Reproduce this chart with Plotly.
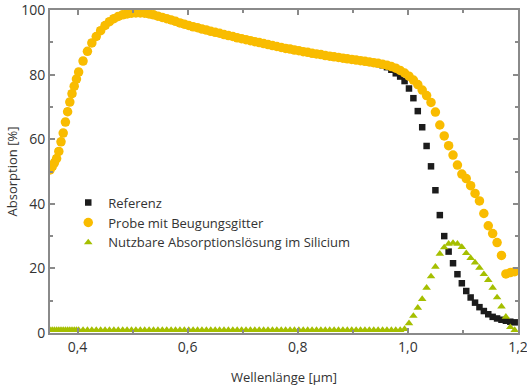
import plotly.graph_objects as go

# Wavelength grid [µm]
wavelength = [
    0.350, 0.354, 0.358, 0.362, 0.366, 0.370, 0.374, 0.378, 0.382, 0.386, 0.390, 0.394, 0.398, 0.402,
    0.410, 0.418, 0.426, 0.434, 0.442, 0.450, 0.458, 0.466, 0.474, 0.482,
    0.490, 0.498, 0.506, 0.514, 0.522, 0.530, 0.538, 0.546, 0.554, 0.562,
    0.570, 0.578, 0.586, 0.594, 0.602, 0.610, 0.618, 0.626, 0.634, 0.642,
    0.650, 0.658, 0.666, 0.674, 0.682, 0.690, 0.698, 0.706, 0.714, 0.722,
    0.730, 0.738, 0.746, 0.754, 0.762, 0.770, 0.778, 0.786, 0.794, 0.802,
    0.810, 0.818, 0.826, 0.834, 0.842, 0.850, 0.858, 0.866, 0.874, 0.882,
    0.890, 0.898, 0.906, 0.914, 0.922, 0.930, 0.938, 0.946, 0.954, 0.962,
    0.970, 0.978, 0.986, 0.994, 1.002, 1.010, 1.018, 1.026, 1.034, 1.042,
    1.050, 1.058, 1.066, 1.074, 1.082, 1.090, 1.098, 1.106, 1.114, 1.122,
    1.130, 1.138, 1.146, 1.154, 1.162, 1.170, 1.178, 1.186, 1.194,
]

# Referenz (black squares)
referenz = [
    50.5, 51.5, 52.7, 54.0, 56.2, 59.2, 61.9, 65.3, 68.5, 71.5, 74.1, 76.4, 78.6, 80.8,
    84.2, 87.2, 89.8, 91.8, 93.6, 95.2, 96.4, 97.3, 98.0, 98.5,
    98.8, 99.0, 99.1, 99.1, 99.0, 98.8, 98.5, 98.1, 97.7, 97.3,
    96.9, 96.5, 96.0, 95.6, 95.2, 94.8, 94.5, 94.1, 93.8, 93.4,
    93.1, 92.8, 92.4, 92.1, 91.8, 91.4, 91.1, 90.8, 90.5, 90.2,
    89.9, 89.6, 89.3, 89.0, 88.7, 88.4, 88.1, 87.9, 87.6, 87.4,
    87.1, 86.9, 86.6, 86.4, 86.2, 85.9, 85.7, 85.5, 85.3, 85.1,
    84.9, 84.7, 84.5, 84.3, 84.1, 83.9, 83.6, 83.3, 82.9, 82.3,
    81.5, 80.4, 79.4, 78.0, 75.7, 72.7, 68.7, 63.7, 57.9, 51.6,
    44.2, 36.5, 30.0, 25.2, 21.6, 18.2, 15.4, 13.0, 11.0, 9.4,
    8.0, 6.8, 5.8, 5.0, 4.5, 4.1, 3.8, 3.5, 3.3,
]

# Probe mit Beugungsgitter (orange circles)
probe = [
    50.5, 51.5, 52.7, 54.0, 56.2, 59.2, 61.9, 65.3, 68.5, 71.5, 74.1, 76.4, 78.6, 80.8,
    84.2, 87.2, 89.8, 91.8, 93.6, 95.2, 96.4, 97.3, 98.0, 98.5,
    98.8, 99.0, 99.1, 99.1, 99.0, 98.8, 98.5, 98.1, 97.7, 97.3,
    96.9, 96.5, 96.0, 95.6, 95.2, 94.8, 94.5, 94.1, 93.8, 93.4,
    93.1, 92.8, 92.4, 92.1, 91.8, 91.4, 91.1, 90.8, 90.5, 90.2,
    89.9, 89.6, 89.3, 89.0, 88.7, 88.4, 88.1, 87.9, 87.6, 87.4,
    87.1, 86.9, 86.6, 86.4, 86.2, 85.9, 85.7, 85.5, 85.3, 85.1,
    84.9, 84.7, 84.5, 84.3, 84.1, 83.9, 83.7, 83.5, 83.2, 82.9,
    82.5, 82.0, 81.3, 80.5, 79.5, 78.3, 76.9, 75.2, 73.5, 71.4,
    68.4, 64.4, 61.0, 58.0, 55.1, 52.0, 49.2, 47.8, 45.6, 43.2,
    40.9, 37.0, 33.2, 30.8, 28.0, 24.0, 18.3, 18.7, 19.0,
]

# Nutzbare Absorptionslösung im Silicium (green triangles)
nutzbar = [
    0.9, 0.9, 0.9, 0.9, 0.9, 0.9, 0.9, 0.9, 0.9, 0.9, 0.9, 0.9, 0.9, 0.9,
    0.9, 0.9, 0.9, 0.9, 0.9, 0.9, 0.9, 0.9, 0.9, 0.9,
    0.9, 0.9, 0.9, 0.9, 0.9, 0.9, 0.9, 0.9, 0.9, 0.9,
    0.9, 0.9, 0.9, 0.9, 0.9, 0.9, 0.9, 0.9, 0.9, 0.9,
    0.9, 0.9, 0.9, 0.9, 0.9, 0.9, 0.9, 0.9, 0.9, 0.9,
    0.9, 0.9, 0.9, 0.9, 0.9, 0.9, 0.9, 0.9, 0.9, 0.9,
    0.9, 0.9, 0.9, 0.9, 0.9, 0.9, 0.9, 0.9, 0.9, 0.9,
    0.9, 0.9, 0.9, 0.9, 0.9, 0.9, 0.9, 0.9, 0.9, 0.9,
    0.9, 0.9, 0.9, 1.2, 3.0, 5.3, 7.8, 10.5, 14.0, 17.5,
    20.5, 24.5, 26.5, 27.6, 27.9, 27.6, 26.6, 24.7, 23.2, 21.8,
    20.2, 18.2, 16.4, 14.0, 11.0, 8.2, 5.0, 1.8, 0.9,
]

x_tickvals = [0.4, 0.6, 0.8, 1.0, 1.2]
y_tickvals = [0, 20, 40, 60, 80, 100]

FONT = "Open Sans, Noto Sans, DejaVu Sans, sans-serif"
AXIS_GREY = "#8a8a8a"
TEXT = "#333333"

fig = go.Figure()
fig.add_trace(go.Scatter(
    x=wavelength, y=referenz, mode="markers", name="Referenz",
    marker=dict(symbol="square", size=6.5, color="#1c1c1c", line=dict(width=0)),
))
fig.add_trace(go.Scatter(
    x=wavelength, y=probe, mode="markers", name="Probe mit Beugungsgitter",
    marker=dict(symbol="circle", size=9.5, color="#F9BC00", line=dict(width=0)),
))
fig.add_trace(go.Scatter(
    x=wavelength, y=nutzbar, mode="markers", name="Nutzbare Absorptionslösung im Silicium",
    marker=dict(symbol="triangle-up", size=7.5, color="#A5BF00", line=dict(width=0)),
))

fig.update_layout(
    width=527, height=386,
    margin=dict(l=50, r=9, t=10, b=53),
    paper_bgcolor="white", plot_bgcolor="white",
    separators=",.",
    font=dict(family=FONT, color=TEXT, size=13),
    showlegend=True,
    legend=dict(
        x=0.039, y=0.45, xanchor="left", yanchor="top",
        bgcolor="rgba(0,0,0,0)", font=dict(size=13, color=TEXT),
        tracegroupgap=0, itemwidth=30,
    ),
)
fig.update_xaxes(
    range=[0.35, 1.2], tickvals=x_tickvals, tickformat=".1f",
    showgrid=False, zeroline=False, automargin=False, ticklabeloverflow="allow",
    showline=True, linecolor=AXIS_GREY, linewidth=2, mirror="ticks",
    ticks="inside", ticklen=5, tickwidth=1.5, tickcolor=AXIS_GREY,
    minor=dict(dtick=0.1, tick0=0.4, ticks="inside", ticklen=3, tickcolor=AXIS_GREY, tickwidth=1.5),
    tickfont=dict(size=14, color=TEXT),
    title=dict(text="Wellenlänge [µm]", font=dict(size=13, color=TEXT), standoff=18),
)
fig.update_yaxes(
    range=[0, 100], tickvals=y_tickvals,
    showgrid=False, zeroline=False, automargin=False, ticklabeloverflow="allow",
    showline=True, linecolor=AXIS_GREY, linewidth=2, mirror="ticks",
    ticks="inside", ticklen=5, tickwidth=1.5, tickcolor=AXIS_GREY,
    minor=dict(dtick=10, ticks="inside", ticklen=3, tickcolor=AXIS_GREY, tickwidth=1.5),
    tickfont=dict(size=14, color=TEXT),
    title=dict(text="Absorption [%]", font=dict(size=13, color=TEXT), standoff=1),
)

fig.write_html(
    "out.html",
    config={"displayModeBar": False},
    post_script="document.body.style.margin='0';",
)
